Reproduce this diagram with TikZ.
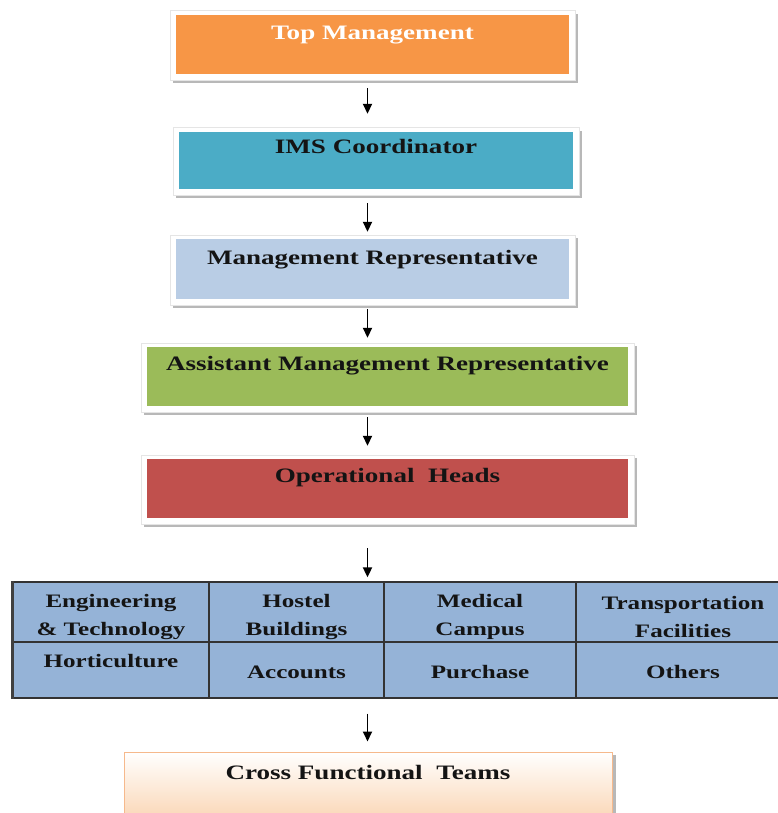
\documentclass[tikz,border=0pt]{standalone}
\usepackage{fontspec}
\newfontfamily\lblfont{Liberation Serif}[FakeStretch=1.32]
\usetikzlibrary{arrows.meta,calc,backgrounds}

\definecolor{topc}{HTML}{F79646}
\definecolor{imsc}{HTML}{4BACC6}
\definecolor{mrc}{HTML}{B9CDE5}
\definecolor{amrc}{HTML}{9BBB59}
\definecolor{ohc}{HTML}{C0504D}
\definecolor{tblc}{HTML}{95B3D7}
\definecolor{peach}{HTML}{FAD0AA}
\definecolor{peachedge}{HTML}{F6B98C}
\definecolor{shadowgray}{HTML}{B8B8B8}
\definecolor{inkc}{HTML}{141414}

% white frame with a soft grey drop shadow behind a level box
\newcommand\levelframe[1]{%
  \fill[shadowgray] ($(#1.north west)+(-3,-1)$) rectangle ($(#1.south east)+(9,9)$);
  \fill[white, draw=black!10, line width=0.6pt]
    ($(#1.north west)+(-6,-4)$) rectangle ($(#1.south east)+(6,6)$);
}
\newcommand\firstlift{\rule{0pt}{23pt}}

\tikzset{
  level/.style={minimum width=#1, inner sep=0pt, text=inkc,
    font=\lblfont\bfseries\fontsize{20.5}{24}\selectfont},
  flow/.style={-{Triangle[width=9pt,length=10pt]}, line width=1.8pt, black},
  cell/.style={draw=black!80, line width=1.3pt, fill=tblc, minimum width=#1,
    inner sep=0pt, align=center, text=inkc,
    font=\lblfont\bfseries\fontsize{19}{28}\selectfont},
}

\begin{document}
\begin{tikzpicture}[x=1pt,y=-1pt]
\clip (0,0) rectangle (778,813);

% management chain
\node[level=393pt, fill=topc, text=white, text height=25pt, text depth=34pt]
  (top) at (372.5,44.5) {Top Management};
\node[level=394pt, fill=imsc, text height=22pt, text depth=35pt]
  (ims) at (376,160.5) {IMS Coordinator};
\node[level=393pt, fill=mrc, text height=25pt, text depth=35pt]
  (mr) at (372.5,269) {Management Representative};
\node[level=481pt, fill=amrc, text height=23pt, text depth=36pt]
  (amr) at (387.5,376.5) {Assistant Management Representative};
\node[level=481pt, fill=ohc, text height=23pt, text depth=36pt]
  (oh) at (387.5,488.5) {Operational~ Heads};

\begin{scope}[on background layer]
  \levelframe{top}
  \levelframe{ims}
  \levelframe{mr}
  \levelframe{amr}
  \levelframe{oh}
\end{scope}

% functional areas
\node[cell=196pt, minimum height=60pt] (e11) at (111,612)
  {\firstlift Engineering\\ \& Technology};
\node[cell=175pt, minimum height=60pt] (e12) at (296.5,612)
  {\firstlift Hostel\\ Buildings};
\node[cell=192pt, minimum height=60pt] (e13) at (480,612)
  {\firstlift Medical\\ Campus};
\node[cell=214pt, minimum height=60pt] (e14) at (683,612)
  {\firstlift Transportation\\ Facilities};
\node[cell=196pt, text height=25pt, text depth=31pt] (e21) at (111,670)
  {Horticulture};
\node[cell=175pt, text height=36pt, text depth=20pt] (e22) at (296.5,670)
  {Accounts};
\node[cell=192pt, text height=36pt, text depth=20pt] (e23) at (480,670)
  {Purchase};
\node[cell=214pt, text height=36pt, text depth=20pt] (e24) at (683,670)
  {Others};
\draw[black!75, line width=2.6pt] (e11.north west) -- (e21.south west);

% cross functional teams
\node[level=488pt, top color=white, bottom color=peach, draw=peachedge,
  line width=1pt, text height=27pt, text depth=51pt]
  (cft) at (368,791) {Cross Functional~ Teams};
\begin{scope}[on background layer]
  \fill[shadowgray] ($(cft.north east)+(0,3)$) rectangle ($(cft.south east)+(3,0)$);
\end{scope}

% arrows down the chain
\coordinate (ax) at (367.5,0);
\draw[flow, shorten <=14pt, shorten >=18pt] (top.south -| ax) -- (ims.north -| ax);
\draw[flow, shorten <=14pt, shorten >=7pt]  (ims.south -| ax) -- (mr.north -| ax);
\draw[flow, shorten <=10pt, shorten >=9pt]  (mr.south -| ax)  -- (amr.north -| ax);
\draw[flow, shorten <=11pt, shorten >=13pt] (amr.south -| ax) -- (oh.north -| ax);
\draw[flow, shorten <=30pt, shorten >=4pt]  (oh.south -| ax)  -- (e12.north -| ax);
\draw[flow, shorten <=15pt, shorten >=10pt] (e22.south -| ax) -- (cft.north -| ax);
\end{tikzpicture}
\end{document}
